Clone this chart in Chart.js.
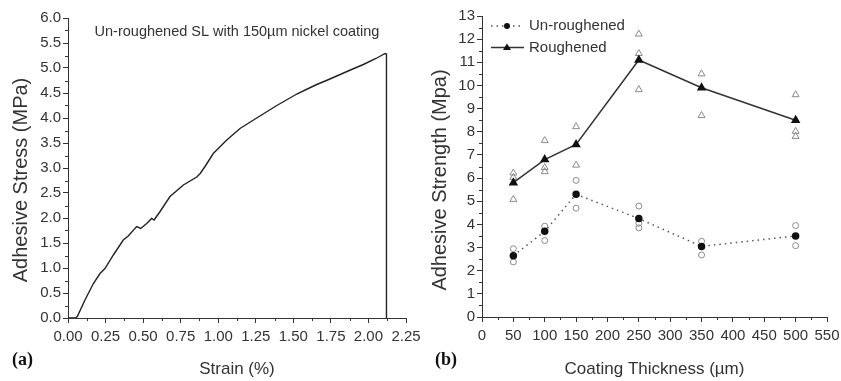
<!DOCTYPE html>
<html>
<head>
<meta charset="utf-8">
<script src="https://cdn.jsdelivr.net/npm/chart.js@4.4.0/dist/chart.umd.min.js"></script>
<style>
  body { margin: 0; background: #fff; }
  #wrap { position: relative; width: 841px; height: 381px; }
  canvas { position: absolute; top: 0; }
  #chartA { left: 0; }
  #chartB { left: 420px; }
</style>
</head>
<body>
<div id="wrap">
  <canvas id="chartA" width="420" height="381"></canvas>
  <canvas id="chartB" width="421" height="381"></canvas>
</div>
<script>
// (a) curva tensión - deformación
const strain = [0, 0.05, 0.062, 0.113, 0.169, 0.213, 0.246, 0.302, 0.368, 0.401, 0.457, 0.484, 0.524, 0.557, 0.573,
  0.613, 0.679, 0.768, 0.857, 0.88, 0.912, 0.967, 1.057, 1.145, 1.256, 1.39, 1.46, 1.523, 1.6, 1.656, 1.72, 1.789,
  1.88, 1.966, 2.05, 2.111, 2.12, 2.12];
const stress = [0, 0, 0.03, 0.36, 0.69, 0.89, 0.99, 1.26, 1.56, 1.64, 1.83, 1.79, 1.89, 1.99, 1.96,
  2.13, 2.43, 2.66, 2.82, 2.89, 3.03, 3.29, 3.56, 3.79, 4.0, 4.25, 4.37, 4.48, 4.59, 4.67, 4.75, 4.84,
  4.96, 5.07, 5.19, 5.29, 5.28, 0];
const strainTicks = [0, 2.25, 0.25];   // min, max, paso
const stressTicks = [0, 6, 0.5];

// (b) resistencia vs espesor
const thickness = [50, 100, 150, 250, 350, 500];
const unroughMean = [2.65, 3.7, 5.3, 4.25, 3.05, 3.5];
const roughMean = [5.8, 6.8, 7.45, 11.1, 9.9, 8.5];
const unroughSamples = [[2.95, 2.38], [3.92, 3.3], [5.9, 4.7], [4.79, 4.05, 3.85], [3.27, 2.68], [3.95, 3.08]];
const roughSamples = [[6.22, 6.03, 5.08], [7.62, 6.45, 6.28], [8.22, 6.56], [12.22, 11.38, 9.82], [10.5, 8.7], [9.6, 8.02, 7.8]];
const thicknessTicks = [0, 550, 50];
const strengthTicks = [0, 13, 1];

const FONT = "'Liberation Sans', Arial, sans-serif";
const TXT = '#333';
const AXIS = '#333';

// marcas menores entre las principales
const minorTicks = {
  id: 'minorTicks',
  afterDraw(chart) {
    const ctx = chart.ctx;
    ctx.save();
    ctx.strokeStyle = AXIS;
    ctx.lineWidth = 1;
    ['x', 'y'].forEach(id => {
      const s = chart.scales[id];
      for (let i = 0; i < s.ticks.length - 1; i++) {
        const v = (s.ticks[i].value + s.ticks[i + 1].value) / 2;
        const p = Math.round(s.getPixelForValue(v)) + 0.5;
        ctx.beginPath();
        if (id === 'x') { ctx.moveTo(p, s.top); ctx.lineTo(p, s.top + 3); }
        else { ctx.moveTo(s.right, p); ctx.lineTo(s.right - 3, p); }
        ctx.stroke();
      }
    });
    ctx.restore();
  }
};

function axisOpts(t, fmt, size, titleText) {
  return {
    type: 'linear',
    min: t[0],
    max: t[1],
    ticks: { stepSize: t[2], callback: v => fmt(v), font: { family: FONT, size: 15 }, color: TXT, padding: titleText ? 5 : 2, maxRotation: 0, autoSkip: false },
    grid: { drawOnChartArea: false, tickLength: 5, color: AXIS },
    border: { color: AXIS, width: 1 },
    afterFit: s => {
      if (s.isHorizontal()) { s.height = size; s.paddingLeft = 0; s.paddingRight = 0; }
      else { s.width = size; s.paddingTop = 0; s.paddingBottom = 0; }
    },
    title: titleText ? { display: true, text: titleText, font: { family: FONT, size: 17 }, color: TXT, padding: { top: 0, bottom: 1 } } : { display: false }
  };
}

function drawYTitle(ctx, text, x, y) {
  ctx.save();
  ctx.translate(x, y);
  ctx.rotate(-Math.PI / 2);
  ctx.font = '20px ' + FONT;
  ctx.fillStyle = TXT;
  ctx.textAlign = 'center';
  ctx.textBaseline = 'middle';
  ctx.fillText(text, 0, 0);
  ctx.restore();
}

function drawLabel(ctx, text, x, y) {
  ctx.save();
  ctx.font = "bold 18px 'Liberation Serif', 'Times New Roman', serif";
  ctx.fillStyle = '#111';
  ctx.textBaseline = 'middle';
  ctx.fillText(text, x, y);
  ctx.restore();
}

const textsA = {
  id: 'textsA',
  afterDraw(chart) {
    const ctx = chart.ctx;
    drawYTitle(ctx, 'Adhesive Stress (MPa)', 21, 180);
    drawLabel(ctx, '(a)', 12, 360);
    ctx.save();
    ctx.font = '14.5px ' + FONT;
    ctx.fillStyle = TXT;
    ctx.textAlign = 'center';
    ctx.textBaseline = 'middle';
    ctx.fillText('Un-roughened SL with 150µm nickel coating', 237, 32);
    ctx.restore();
  }
};

new Chart(document.getElementById('chartA'), {
  type: 'scatter',
  data: {
    datasets: [{
      data: strain.map((x, i) => ({ x: x, y: stress[i] })),
      showLine: true,
      borderColor: '#222',
      borderWidth: 1.4,
      pointRadius: 0,
      tension: 0
    }]
  },
  options: {
    responsive: false,
    animation: false,
    layout: { padding: { top: 18, right: 14, left: 0, bottom: 0 } },
    plugins: { legend: { display: false }, tooltip: { enabled: false } },
    scales: {
      x: axisOpts(strainTicks, v => v.toFixed(2), 63, 'Strain (%)'),
      y: axisOpts(stressTicks, v => v.toFixed(1), 68, null)
    }
  },
  plugins: [minorTicks, textsA]
});

// leyenda dibujada a mano (línea + marcador)
const textsB = {
  id: 'textsB',
  afterDraw(chart) {
    const ctx = chart.ctx;
    drawYTitle(ctx, 'Adhesive Strength (Mpa)', 20, 180);
    drawLabel(ctx, '(b)', 15, 360);
    ctx.save();
    ctx.strokeStyle = '#555';
    ctx.lineWidth = 1.5;
    ctx.setLineDash([1.5, 4]);
    ctx.beginPath(); ctx.moveTo(71, 26); ctx.lineTo(104, 26); ctx.stroke();
    ctx.setLineDash([]);
    ctx.fillStyle = '#111';
    ctx.beginPath(); ctx.arc(87, 26, 3, 0, Math.PI * 2); ctx.fill();
    ctx.strokeStyle = '#333';
    ctx.beginPath(); ctx.moveTo(71, 47.5); ctx.lineTo(104, 47.5); ctx.stroke();
    ctx.beginPath(); ctx.moveTo(87, 43.5); ctx.lineTo(91, 50); ctx.lineTo(83, 50); ctx.closePath(); ctx.fill();
    ctx.font = '15px ' + FONT;
    ctx.fillStyle = TXT;
    ctx.textBaseline = 'middle';
    ctx.fillText('Un-roughened', 109, 26);
    ctx.fillText('Roughened', 109, 47.5);
    ctx.restore();
  }
};

const samplePoints = arr => thickness.flatMap((t, i) => arr[i].map(v => ({ x: t, y: v })));

new Chart(document.getElementById('chartB'), {
  type: 'scatter',
  data: {
    datasets: [
      {
        label: 'Roughened',
        data: thickness.map((t, i) => ({ x: t, y: roughMean[i] })),
        showLine: true,
        borderColor: '#333',
        borderWidth: 1.5,
        pointStyle: 'triangle',
        pointRadius: 4,
        pointBackgroundColor: '#111',
        pointBorderColor: '#111',
        order: 1
      },
      {
        label: 'Un-roughened',
        data: thickness.map((t, i) => ({ x: t, y: unroughMean[i] })),
        showLine: true,
        borderColor: '#555',
        borderWidth: 1.5,
        borderDash: [1.5, 4],
        pointStyle: 'circle',
        pointRadius: 3,
        pointBackgroundColor: '#111',
        pointBorderColor: '#111',
        order: 2
      },
      {
        data: samplePoints(roughSamples),
        pointStyle: 'triangle',
        pointRadius: 4,
        pointBackgroundColor: 'rgba(0,0,0,0)',
        pointBorderColor: '#8a8a8a',
        pointBorderWidth: 1,
        order: 3
      },
      {
        data: samplePoints(unroughSamples),
        pointStyle: 'circle',
        pointRadius: 3,
        pointBackgroundColor: 'rgba(0,0,0,0)',
        pointBorderColor: '#8a8a8a',
        pointBorderWidth: 1,
        order: 4
      }
    ]
  },
  options: {
    responsive: false,
    animation: false,
    layout: { padding: { top: 16, right: 14, left: 0, bottom: 0 } },
    plugins: { legend: { display: false }, tooltip: { enabled: false } },
    scales: {
      x: axisOpts(thicknessTicks, v => String(v), 64, 'Coating Thickness (µm)'),
      y: axisOpts(strengthTicks, v => String(v), 62, null)
    }
  },
  plugins: [minorTicks, textsB]
});
</script>
</body>
</html>
